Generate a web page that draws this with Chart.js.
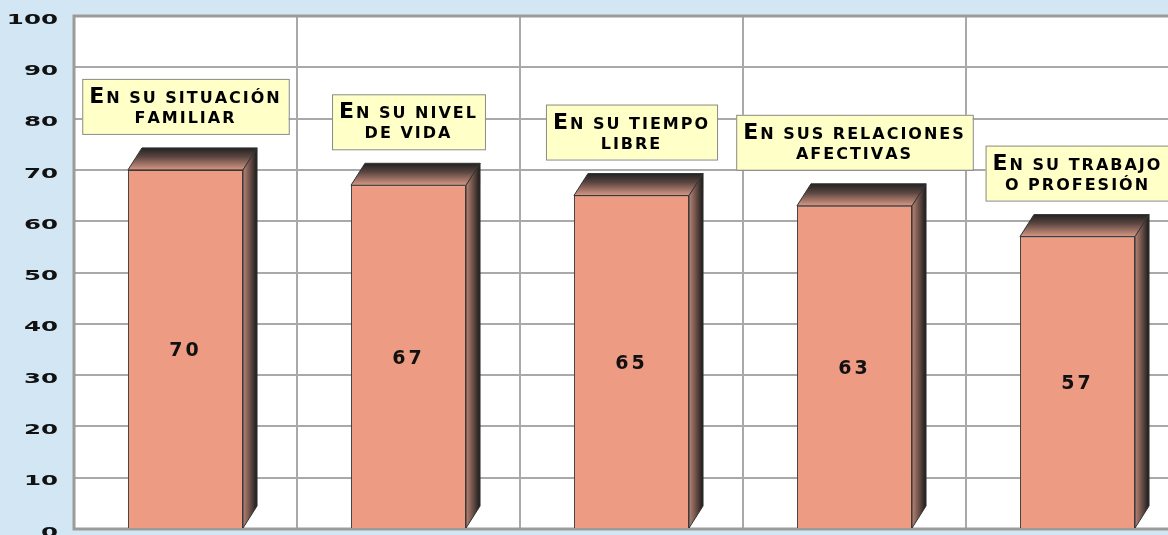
<!DOCTYPE html>
<html lang="es">
<head>
<meta charset="utf-8">
<title>Satisfacción</title>
<script src="https://cdn.jsdelivr.net/npm/chart.js@4.4.1/dist/chart.umd.min.js"></script>
<style>
  html, body { margin: 0; padding: 0; overflow: hidden; background: #d3e6f4; }
  canvas { display: block; }
</style>
</head>
<body>
<canvas id="grafico" width="1192" height="535" style="width:1192px;height:535px"></canvas>
<script>
// datos
const categorias = [
  ['En su situación', 'familiar'],
  ['En su nivel', 'de vida'],
  ['En su tiempo', 'libre'],
  ['En sus relaciones', 'afectivas'],
  ['En su trabajo', 'o profesión']
];
const valores = [70, 67, 65, 63, 57];
const yMin = 0, yMax = 100, yPaso = 10;

const FONDO = 'DejaVu Sans';

// texto en versalitas: mayúsculas grandes, minúsculas como mayúsculas pequeñas
function trozos(texto) {
  return [...texto].map(ch => {
    const grande = ch !== ch.toLowerCase() && ch === ch.toUpperCase();
    return { s: ch.toUpperCase(), grande };
  });
}
function fuente(grande) {
  return grande ? 'bold 22px ' + FONDO : 'bold 16px ' + FONDO;
}
function anchoVersalitas(ctx, texto) {
  let w = 0;
  for (const t of trozos(texto)) {
    ctx.font = fuente(t.grande);
    w += ctx.measureText(t.s).width;
  }
  return w;
}
function dibujaVersalitas(ctx, texto, cx, y) {
  let x = cx - anchoVersalitas(ctx, texto) / 2;
  ctx.textAlign = 'left';
  ctx.textBaseline = 'alphabetic';
  for (const t of trozos(texto)) {
    ctx.font = fuente(t.grande);
    ctx.fillText(t.s, x, y);
    x += ctx.measureText(t.s).width;
  }
}

const marco = {
  id: 'marco',
  beforeDraw(chart) {
    const { ctx, chartArea: a } = chart;
    ctx.save();
    ctx.fillStyle = '#ffffff';
    ctx.fillRect(a.left, a.top, a.right - a.left, a.bottom - a.top);
    ctx.restore();
  },
  beforeDatasetsDraw(chart) {
    const { ctx, chartArea: a } = chart;
    ctx.save();
    ctx.strokeStyle = '#9b9b9b';
    ctx.lineWidth = 3;
    ctx.strokeRect(a.left, a.top, a.right - a.left, a.bottom - a.top);
    ctx.restore();
  }
};

const barras3d = {
  id: 'barras3d',
  afterDatasetsDraw(chart) {
    const { ctx } = chart;
    const meta = chart.getDatasetMeta(0);
    const dx = 14, dy = 22;
    ctx.save();
    meta.data.forEach((bar, i) => {
      const p = bar.getProps(['x', 'y', 'base', 'width'], true);
      const l = p.x - p.width / 2, r = p.x + p.width / 2;
      // cara superior
      let g = ctx.createLinearGradient(0, p.y, 0, p.y - dy);
      g.addColorStop(0, '#d89884');
      g.addColorStop(0.6, '#5a4540');
      g.addColorStop(1, '#222222');
      ctx.beginPath();
      ctx.moveTo(l, p.y); ctx.lineTo(l + dx, p.y - dy);
      ctx.lineTo(r + dx, p.y - dy); ctx.lineTo(r, p.y); ctx.closePath();
      ctx.fillStyle = g; ctx.fill();
      ctx.strokeStyle = '#333'; ctx.lineWidth = 1; ctx.stroke();
      // cara lateral
      g = ctx.createLinearGradient(r, 0, r + dx, 0);
      g.addColorStop(0, '#b88474');
      g.addColorStop(1, '#1a1a1a');
      ctx.beginPath();
      ctx.moveTo(r, p.y); ctx.lineTo(r + dx, p.y - dy);
      ctx.lineTo(r + dx, p.base - dy); ctx.lineTo(r, p.base); ctx.closePath();
      ctx.fillStyle = g; ctx.fill();
      ctx.stroke();

      // valor
      ctx.fillStyle = '#111';
      ctx.font = 'bold 19px ' + FONDO;
      ctx.letterSpacing = '3px';
      ctx.textAlign = 'center';
      ctx.textBaseline = 'middle';
      ctx.fillText(String(valores[i]), p.x, (p.y + p.base) / 2 + 2);
      ctx.letterSpacing = '0px';

      // rótulo
      ctx.letterSpacing = '2px';
      const lineas = categorias[i];
      const w = Math.max(...lineas.map(t => anchoVersalitas(ctx, t))) + 14;
      const h = 55;
      const bottom = p.y - 36;
      const top = bottom - h;
      ctx.fillStyle = '#ffffc8';
      ctx.fillRect(p.x - w / 2, top, w, h);
      ctx.strokeStyle = '#8a8a8a';
      ctx.lineWidth = 1;
      ctx.strokeRect(p.x - w / 2 + 0.5, top + 0.5, w, h);
      ctx.fillStyle = '#000';
      dibujaVersalitas(ctx, lineas[0], p.x, top + 24);
      dibujaVersalitas(ctx, lineas[1], p.x, top + 44);
      ctx.letterSpacing = '0px';
    });
    ctx.restore();
  }
};

const etiquetasY = {
  id: 'etiquetasY',
  afterDraw(chart) {
    const { ctx } = chart;
    const y = chart.scales.y;
    const k = 1.75;
    ctx.save();
    ctx.scale(k, 1);
    ctx.font = 'bold 14px ' + FONDO;
    ctx.fillStyle = '#111';
    ctx.textAlign = 'right';
    ctx.textBaseline = 'middle';
    y.ticks.forEach(t => {
      ctx.fillText(String(t.value), 58 / k, y.getPixelForValue(t.value) + 4);
    });
    ctx.restore();
  }
};

new Chart(document.getElementById('grafico'), {
  type: 'bar',
  data: {
    labels: categorias.map(c => c.join(' ')),
    datasets: [{
      data: valores,
      backgroundColor: '#ed9b83',
      borderColor: '#3c3c3c',
      borderWidth: 1,
      barPercentage: 0.516,
      categoryPercentage: 1
    }]
  },
  options: {
    responsive: false,
    animation: false,
    layout: { padding: { top: 16, bottom: 6, right: 3, left: 0 } },
    plugins: { legend: { display: false }, tooltip: { enabled: false } },
    scales: {
      x: {
        grid: { offset: true, color: '#a9a9a9', lineWidth: 2, drawTicks: false },
        border: { display: false },
        ticks: { display: false },
        afterFit(s) { s.height = 0; }
      },
      y: {
        min: yMin, max: yMax,
        ticks: { stepSize: yPaso, display: false },
        grid: { color: '#a9a9a9', lineWidth: 2, drawTicks: false },
        border: { display: false },
        afterFit(s) { s.width = 74; }
      }
    }
  },
  plugins: [marco, barras3d, etiquetasY]
});
</script>
</body>
</html>
